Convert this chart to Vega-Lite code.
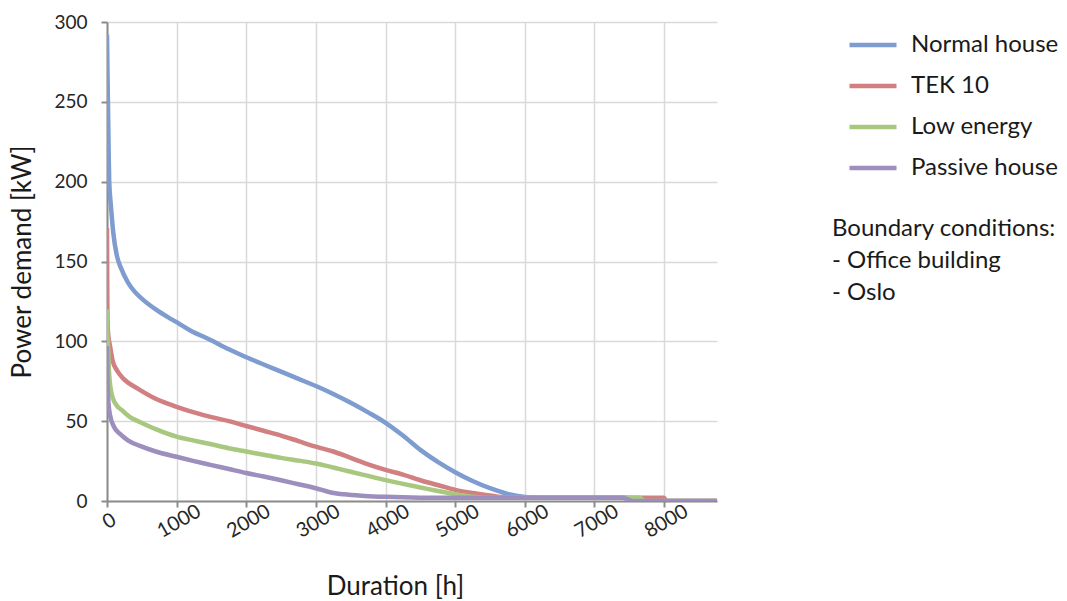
{
  "$schema": "https://vega.github.io/schema/vega-lite/v6.json",
  "width": 610,
  "height": 479,
  "autosize": {"type": "none"},
  "padding": {"left": 107, "top": 22, "right": 350, "bottom": 100},
  "background": "white",
  "config": {"view": {"stroke": null}, "font": "Lato"},
  "layer": [
    {
      "data": {
        "values": [
          {"building": "Normal house", "hours": 0, "kW": 292},
          {"building": "Normal house", "hours": 8, "kW": 265},
          {"building": "Normal house", "hours": 15, "kW": 245},
          {"building": "Normal house", "hours": 25, "kW": 215},
          {"building": "Normal house", "hours": 32, "kW": 200},
          {"building": "Normal house", "hours": 50, "kW": 188},
          {"building": "Normal house", "hours": 67, "kW": 179},
          {"building": "Normal house", "hours": 90, "kW": 168},
          {"building": "Normal house", "hours": 140, "kW": 154},
          {"building": "Normal house", "hours": 200, "kW": 146},
          {"building": "Normal house", "hours": 300, "kW": 137},
          {"building": "Normal house", "hours": 400, "kW": 131},
          {"building": "Normal house", "hours": 520, "kW": 126},
          {"building": "Normal house", "hours": 700, "kW": 120},
          {"building": "Normal house", "hours": 880, "kW": 115},
          {"building": "Normal house", "hours": 1000, "kW": 112},
          {"building": "Normal house", "hours": 1190, "kW": 107},
          {"building": "Normal house", "hours": 1480, "kW": 101},
          {"building": "Normal house", "hours": 1750, "kW": 95},
          {"building": "Normal house", "hours": 2000, "kW": 90},
          {"building": "Normal house", "hours": 2250, "kW": 85.5},
          {"building": "Normal house", "hours": 2500, "kW": 81},
          {"building": "Normal house", "hours": 2750, "kW": 76.5},
          {"building": "Normal house", "hours": 3000, "kW": 72},
          {"building": "Normal house", "hours": 3250, "kW": 67},
          {"building": "Normal house", "hours": 3500, "kW": 61.5},
          {"building": "Normal house", "hours": 3750, "kW": 55.5},
          {"building": "Normal house", "hours": 4000, "kW": 49},
          {"building": "Normal house", "hours": 4250, "kW": 41},
          {"building": "Normal house", "hours": 4500, "kW": 32},
          {"building": "Normal house", "hours": 4750, "kW": 24.5},
          {"building": "Normal house", "hours": 5000, "kW": 18},
          {"building": "Normal house", "hours": 5250, "kW": 12.5},
          {"building": "Normal house", "hours": 5500, "kW": 8},
          {"building": "Normal house", "hours": 5750, "kW": 4.5},
          {"building": "Normal house", "hours": 6000, "kW": 2.5},
          {"building": "Normal house", "hours": 6200, "kW": 2},
          {"building": "Normal house", "hours": 7450, "kW": 2},
          {"building": "Normal house", "hours": 7520, "kW": 0},
          {"building": "Normal house", "hours": 8760, "kW": 0},

          {"building": "TEK 10", "hours": 0, "kW": 171},
          {"building": "TEK 10", "hours": 4, "kW": 130},
          {"building": "TEK 10", "hours": 10, "kW": 110},
          {"building": "TEK 10", "hours": 20, "kW": 103},
          {"building": "TEK 10", "hours": 40, "kW": 98},
          {"building": "TEK 10", "hours": 80, "kW": 88},
          {"building": "TEK 10", "hours": 140, "kW": 82},
          {"building": "TEK 10", "hours": 250, "kW": 76},
          {"building": "TEK 10", "hours": 430, "kW": 70.7},
          {"building": "TEK 10", "hours": 700, "kW": 64},
          {"building": "TEK 10", "hours": 1000, "kW": 59},
          {"building": "TEK 10", "hours": 1250, "kW": 55.5},
          {"building": "TEK 10", "hours": 1500, "kW": 52.5},
          {"building": "TEK 10", "hours": 1750, "kW": 50},
          {"building": "TEK 10", "hours": 2000, "kW": 47},
          {"building": "TEK 10", "hours": 2250, "kW": 44},
          {"building": "TEK 10", "hours": 2500, "kW": 41},
          {"building": "TEK 10", "hours": 2750, "kW": 37.5},
          {"building": "TEK 10", "hours": 3000, "kW": 34},
          {"building": "TEK 10", "hours": 3250, "kW": 31},
          {"building": "TEK 10", "hours": 3500, "kW": 27},
          {"building": "TEK 10", "hours": 3750, "kW": 23},
          {"building": "TEK 10", "hours": 4000, "kW": 19.5},
          {"building": "TEK 10", "hours": 4250, "kW": 16.5},
          {"building": "TEK 10", "hours": 4500, "kW": 13},
          {"building": "TEK 10", "hours": 4750, "kW": 10},
          {"building": "TEK 10", "hours": 5000, "kW": 7},
          {"building": "TEK 10", "hours": 5250, "kW": 5},
          {"building": "TEK 10", "hours": 5500, "kW": 3.5},
          {"building": "TEK 10", "hours": 5700, "kW": 2.3},
          {"building": "TEK 10", "hours": 6000, "kW": 2},
          {"building": "TEK 10", "hours": 8000, "kW": 2},
          {"building": "TEK 10", "hours": 8030, "kW": 0},
          {"building": "TEK 10", "hours": 8760, "kW": 0},

          {"building": "Low energy", "hours": 0, "kW": 120},
          {"building": "Low energy", "hours": 5, "kW": 105},
          {"building": "Low energy", "hours": 15, "kW": 98},
          {"building": "Low energy", "hours": 30, "kW": 80},
          {"building": "Low energy", "hours": 67, "kW": 67},
          {"building": "Low energy", "hours": 120, "kW": 61},
          {"building": "Low energy", "hours": 210, "kW": 57},
          {"building": "Low energy", "hours": 330, "kW": 52.5},
          {"building": "Low energy", "hours": 470, "kW": 49.5},
          {"building": "Low energy", "hours": 700, "kW": 45},
          {"building": "Low energy", "hours": 1000, "kW": 40.3},
          {"building": "Low energy", "hours": 1250, "kW": 37.8},
          {"building": "Low energy", "hours": 1500, "kW": 35.5},
          {"building": "Low energy", "hours": 1750, "kW": 33},
          {"building": "Low energy", "hours": 2000, "kW": 31},
          {"building": "Low energy", "hours": 2250, "kW": 29},
          {"building": "Low energy", "hours": 2500, "kW": 27},
          {"building": "Low energy", "hours": 2750, "kW": 25.3},
          {"building": "Low energy", "hours": 3000, "kW": 23.5},
          {"building": "Low energy", "hours": 3250, "kW": 21},
          {"building": "Low energy", "hours": 3500, "kW": 18.3},
          {"building": "Low energy", "hours": 3750, "kW": 15.7},
          {"building": "Low energy", "hours": 4000, "kW": 13.1},
          {"building": "Low energy", "hours": 4250, "kW": 10.7},
          {"building": "Low energy", "hours": 4500, "kW": 8.5},
          {"building": "Low energy", "hours": 4750, "kW": 6.3},
          {"building": "Low energy", "hours": 5000, "kW": 4.2},
          {"building": "Low energy", "hours": 5250, "kW": 2.6},
          {"building": "Low energy", "hours": 5500, "kW": 2},
          {"building": "Low energy", "hours": 7650, "kW": 2},
          {"building": "Low energy", "hours": 7720, "kW": 0},
          {"building": "Low energy", "hours": 8760, "kW": 0},

          {"building": "Passive house", "hours": 0, "kW": 97},
          {"building": "Passive house", "hours": 8, "kW": 75},
          {"building": "Passive house", "hours": 20, "kW": 62},
          {"building": "Passive house", "hours": 43, "kW": 54},
          {"building": "Passive house", "hours": 100, "kW": 46.5},
          {"building": "Passive house", "hours": 187, "kW": 42},
          {"building": "Passive house", "hours": 300, "kW": 38},
          {"building": "Passive house", "hours": 474, "kW": 34.5},
          {"building": "Passive house", "hours": 700, "kW": 31},
          {"building": "Passive house", "hours": 1000, "kW": 27.7},
          {"building": "Passive house", "hours": 1250, "kW": 25},
          {"building": "Passive house", "hours": 1500, "kW": 22.5},
          {"building": "Passive house", "hours": 1750, "kW": 20},
          {"building": "Passive house", "hours": 2000, "kW": 17.5},
          {"building": "Passive house", "hours": 2250, "kW": 15.3},
          {"building": "Passive house", "hours": 2500, "kW": 13},
          {"building": "Passive house", "hours": 2750, "kW": 10.5},
          {"building": "Passive house", "hours": 3000, "kW": 8},
          {"building": "Passive house", "hours": 3200, "kW": 5.5},
          {"building": "Passive house", "hours": 3400, "kW": 4.2},
          {"building": "Passive house", "hours": 3700, "kW": 3.2},
          {"building": "Passive house", "hours": 4000, "kW": 2.6},
          {"building": "Passive house", "hours": 4500, "kW": 2.1},
          {"building": "Passive house", "hours": 5000, "kW": 2},
          {"building": "Passive house", "hours": 7400, "kW": 2},
          {"building": "Passive house", "hours": 7550, "kW": 0},
          {"building": "Passive house", "hours": 8760, "kW": 0}
        ]
      },
      "mark": {"type": "line", "strokeWidth": 4.5, "interpolate": "monotone", "clip": true},
      "encoding": {
        "x": {
          "field": "hours",
          "type": "quantitative",
          "scale": {"domain": [0, 8760], "nice": false},
          "axis": {
            "title": "Duration [h]",
            "values": [0, 1000, 2000, 3000, 4000, 5000, 6000, 7000, 8000],
            "format": "d",
            "grid": true,
            "gridColor": "#d9d9d9",
            "gridWidth": 1.5,
            "domainColor": "#8c8c8c",
            "domainWidth": 2,
            "tickColor": "#8c8c8c",
            "tickWidth": 2,
            "tickSize": 6,
            "labelAngle": -30,
            "labelAlign": "center",
            "labelBaseline": "middle",
            "labelPadding": 14,
            "labelOffset": 2,
            "labelFont": "Lato",
            "labelFontSize": 20,
            "labelColor": "#262626",
            "titleFont": "Lato",
            "titleFontSize": 26,
            "titleFontWeight": "normal",
            "titleColor": "#1a1a1a",
            "titlePadding": 32,
            "titleX": 288
          }
        },
        "y": {
          "field": "kW",
          "type": "quantitative",
          "scale": {"domain": [0, 300], "nice": false},
          "axis": {
            "title": "Power demand [kW]",
            "values": [0, 50, 100, 150, 200, 250, 300],
            "grid": true,
            "gridColor": "#d9d9d9",
            "gridWidth": 1.5,
            "domainColor": "#8c8c8c",
            "domainWidth": 2,
            "tickColor": "#8c8c8c",
            "tickWidth": 2,
            "tickSize": 6,
            "labelPadding": 14,
            "labelFont": "Lato",
            "labelFontSize": 19,
            "labelColor": "#262626",
            "titleFont": "Lato",
            "titleFontSize": 26,
            "titleFontWeight": "normal",
            "titleColor": "#1a1a1a",
            "titlePadding": 18
          }
        },
        "color": {
          "field": "building",
          "type": "nominal",
          "scale": {
            "domain": ["Normal house", "TEK 10", "Low energy", "Passive house"],
            "range": ["#7e9ccf", "#d17f80", "#a8c77f", "#9c8fbd"]
          },
          "legend": {
            "title": null,
            "orient": "none",
            "legendX": 740,
            "legendY": -3,
            "padding": 0,
            "symbolType": "stroke",
            "symbolSize": 2209,
            "symbolStrokeWidth": 4.5,
            "labelFont": "Lato",
            "labelFontSize": 24,
            "labelColor": "#1a1a1a",
            "labelOffset": 12,
            "rowPadding": 3
          }
        }
      }
    },
    {
      "data": {"values": [{"note": "Boundary conditions"}]},
      "mark": {
        "type": "text",
        "text": ["Boundary conditions:", "- Office building", "- Oslo"],
        "align": "left",
        "baseline": "alphabetic",
        "lineHeight": 32,
        "font": "Lato",
        "fontSize": 24,
        "color": "#1a1a1a"
      },
      "encoding": {
        "x": {"datum": 10411, "type": "quantitative"},
        "y": {"datum": 166, "type": "quantitative"}
      }
    }
  ]
}
